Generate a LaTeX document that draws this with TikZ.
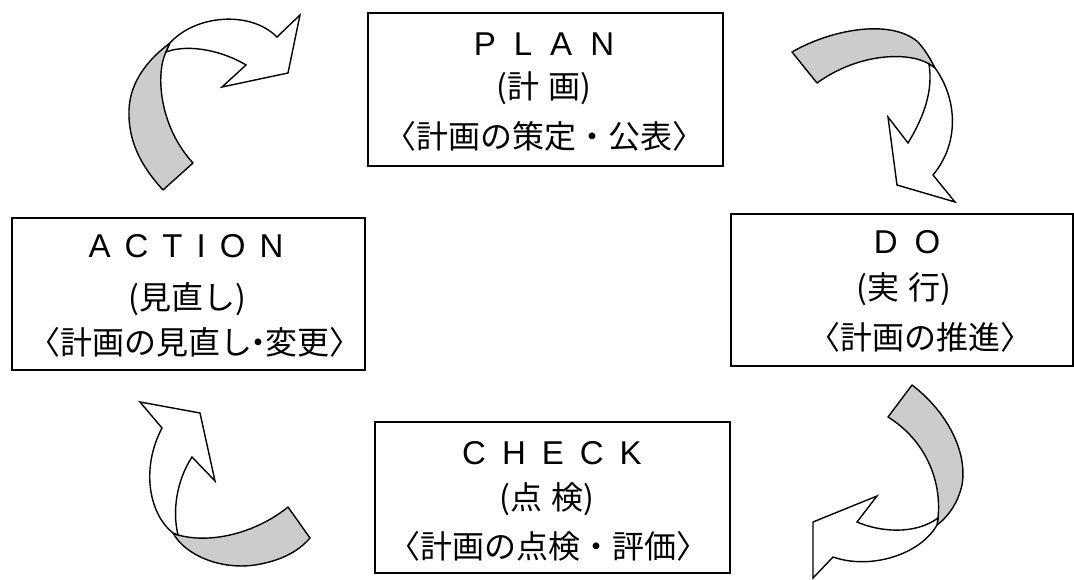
\documentclass[tikz,border=0pt]{standalone}
\usepackage{fontspec}
\newfontfamily\jp{Noto Sans CJK JP}
\newfontfamily\lat{Liberation Sans}
\newcommand\lbk{\makebox[0.45em][r]{〈}}
\newcommand\rbk{\makebox[0.45em][l]{〉}}
\newcommand\ndot{\makebox[0.4em][c]{・}}
\tikzset{
  box/.style={draw, line width=1.5pt, inner sep=0pt},
  ttl/.style={font=\lat\fontsize{33}{33}\selectfont, inner sep=0pt},
  jtx/.style={font=\jp\fontsize{32}{32}\selectfont, inner sep=0pt},
  grayside/.style={fill=black!20, draw=black, line width=1.4pt, line join=round},
  whiteside/.style={fill=white, draw=black, line width=1.4pt, line join=miter},
}
\begin{document}
\begin{tikzpicture}[x=1pt,y=-1pt]
\useasboundingbox (0,0) rectangle (1074,580);
% boxes
\node[box, minimum width=355pt, minimum height=153pt] (plan) at (545.5,89.5) {};
\node[box, minimum width=353pt, minimum height=152pt] (action) at (188.5,294) {};
\node[box, minimum width=342pt, minimum height=152pt] (do) at (902,290) {};
\node[box, minimum width=355pt, minimum height=151pt] (check) at (552.5,497.5) {};
% PLAN texts
\node[ttl] (planT) at (544,44) {P\hspace{18pt}L\hspace{18pt}A\hspace{18pt}N};
\node[jtx] (planA) at (544,88) {(計\hspace{10pt}画)};
\node[jtx] (planB) at (544,136) {\lbk 計画の策定・公表\rbk};
% ACTION texts
\node[ttl] (actT) at (186,246) {A\hspace{14pt}C\hspace{14pt}T\hspace{14pt}I\hspace{14pt}O\hspace{14pt}N};
\node[jtx] (actA) at (187,299) {(見直し)};
\node[jtx] (actB) at (195,342) {\lbk 計画の見直し\ndot 変更\rbk};
% DO texts
\node[ttl] (doT) at (907,242) {D\hspace{17pt}O};
\node[jtx] (doA) at (904,289) {(実\hspace{10pt}行)};
\node[jtx] (doB) at (920,337) {\lbk 計画の推進\rbk};
% CHECK texts
\node[ttl] (chkT) at (552,453) {C\hspace{16pt}H\hspace{16pt}E\hspace{16pt}C\hspace{16pt}K};
\node[jtx] (chkA) at (547,499) {(点\hspace{10pt}検)};
\node[jtx] (chkB) at (548,546) {\lbk 計画の点検・評価\rbk};
% arrow 1 (top left)
\draw[grayside] (163,190) .. controls (140,165) and (128,140) .. (129,110)
  .. controls (130,80) and (150,58) .. (170,43) -- (166,52)
  .. controls (156,72) and (158,125) .. (193,163) -- cycle;
\draw[whiteside] (170,43) .. controls (195,15) and (250,10) .. (277,37)
  -- (300,15) -- (288,73) -- (222,87) -- (246,65)
  .. controls (225,52) and (190,43) .. (166,52) -- cycle;
% arrow 2 (top right)
\draw[grayside] (817,83) -- (792,52) .. controls (830,30) and (890,18) .. (918,42)
  .. controls (925,50) and (930,58) .. (935,68) -- (929,64)
  .. controls (910,52) and (860,52) .. (817,83) -- cycle;
\draw[whiteside] (935,68) .. controls (955,95) and (962,140) .. (933,175)
  -- (955,202) -- (897,185) -- (888,117) -- (908,143)
  .. controls (925,115) and (933,90) .. (929,64) -- cycle;
% arrow 3 (bottom left)
\draw[grayside] (173,533) .. controls (185,555) and (220,570) .. (255,565)
  .. controls (280,561) and (298,552) .. (310,538) -- (288,507)
  .. controls (260,530) and (215,545) .. (178,535) -- cycle;
\draw[whiteside] (173,533) .. controls (150,515) and (140,470) .. (162,428)
  -- (140,402) -- (200,413) -- (215,481) -- (192,457)
  .. controls (177,480) and (172,510) .. (178,535) -- cycle;
% arrow 4 (bottom right)
\draw[grayside] (888,417) -- (912,385) .. controls (945,410) and (968,450) .. (962,485)
  .. controls (958,502) and (950,515) .. (937,525) -- (938,518)
  .. controls (942,480) and (925,440) .. (888,417) -- cycle;
\draw[whiteside] (937,525) .. controls (920,555) and (870,570) .. (833,557)
  -- (813,578) -- (813,522) -- (877,496) -- (857,522)
  .. controls (880,532) and (915,535) .. (938,518) -- cycle;
\end{tikzpicture}
\end{document}
